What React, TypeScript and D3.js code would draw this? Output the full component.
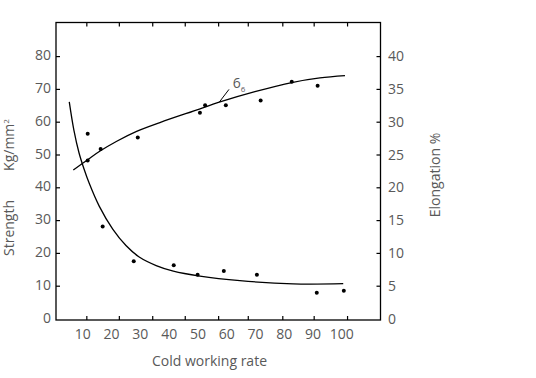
import React from "react";
import * as d3 from "d3";

const xTickLabels = [10, 20, 30, 40, 50, 60, 70, 80, 90, 100];
const xFrameTicks = [11.4, 22.7, 34.3, 45.6, 57.2, 67.5, 79.5, 90.4, 102.0];
const leftTicks = [0, 10, 20, 30, 40, 50, 60, 70, 80];
const rightTicks = [0, 5, 10, 15, 20, 25, 30, 35, 40];

// Strength points (Kg/mm2)
const strengthX = [11.7, 11.7, 16.2, 29.1, 50.7, 52.5, 59.7, 71.8, 82.6, 91.6];
const strengthY = [56.5, 48.3, 51.8, 55.3, 62.9, 65.2, 65.2, 66.6, 72.3, 71.1];
// Strength fitted curve
const strengthCurveX = [6.7, 11.9, 16.0, 21.8, 28.7, 36.8, 50.5, 57.4, 69.8, 82.6, 92.4, 101.1];
const strengthCurveY = [45.4, 48.7, 51.2, 54.2, 57.2, 59.9, 64.0, 66.1, 69.3, 72.1, 73.5, 74.2];

// Elongation points (%)
const elongX = [16.9, 27.7, 41.6, 49.9, 59.0, 70.5, 91.3, 100.7];
const elongY = [14.1, 8.8, 8.2, 6.75, 7.3, 6.75, 4.0, 4.3];
// Elongation fitted curve
const elongCurveX = [5.3, 6.9, 8.7, 10.4, 12.3, 15.7, 20.4, 25.0, 29.6, 35.5, 41.45, 50.7, 64.6, 83.1, 100.5];
const elongCurveY = [33.1, 28.8, 25.3, 22.9, 20.6, 17.2, 13.7, 11.2, 9.45, 8.15, 7.3, 6.55, 5.85, 5.35, 5.38];

// annotation "6_6": leader from curve to label
const annoFrom = [57.4, 66.1];
const annoTo = [60.8, 70.0];
const annoText = [62.1, 70.3];

export default function App() {
  const W = 536, H = 378;
  const frame = { left: 56, right: 380.5, top: 22.5, bottom: 320 };
  const x = d3.scaleLinear().domain([10, 100]).range([82.8, 341.8]);
  const yL = d3.scaleLinear().domain([0, 80]).range([319, 56.6]);
  const yR = d3.scaleLinear().domain([0, 40]).range([319, 56.6]);
  const line = d3.line<[number, number]>().curve(d3.curveCatmullRom.alpha(0.5));
  const sPath = line(strengthCurveX.map((v, i) => [x(v), yL(strengthCurveY[i])]))!;
  const ePath = line(elongCurveX.map((v, i) => [x(v), yR(elongCurveY[i])]))!;
  const gray = "#595959";
  const font = "'Open Sans', 'Segoe UI', sans-serif";
  const tl = 4;
  return (
    <svg width={W} height={H} style={{ position: "absolute", left: 0, top: 0, background: "#fff" }}>
      <rect x={frame.left} y={frame.top} width={frame.right - frame.left} height={frame.bottom - frame.top}
        fill="none" stroke="#000" strokeWidth={1.3} />
      {xFrameTicks.map((t, i) => (
        <g key={"xt" + i} stroke="#000" strokeWidth={1.2}>
          <line x1={x(t)} x2={x(t)} y1={frame.top} y2={frame.top + tl} />
          <line x1={x(t)} x2={x(t)} y1={frame.bottom} y2={frame.bottom - tl} />
        </g>
      ))}
      {leftTicks.filter(t => t > 0).map((t, i) => (
        <line key={"lt" + i} x1={frame.left} x2={frame.left + tl} y1={yL(t)} y2={yL(t)} stroke="#000" strokeWidth={1.2} />
      ))}
      {rightTicks.filter(t => t > 0).map((t, i) => (
        <line key={"rt" + i} x1={frame.right} x2={frame.right - tl} y1={yR(t)} y2={yR(t)} stroke="#000" strokeWidth={1.2} />
      ))}
      <g fontFamily={font} fontSize={14} fill={gray}>
        {xTickLabels.map((t, i) => (
          <text key={"xl" + i} x={x(t)} y={339} textAnchor="middle">{t}</text>
        ))}
        {leftTicks.map((t, i) => (
          <text key={"ll" + i} x={51} y={yL(t) - 2} textAnchor="end" dominantBaseline="central">{t}</text>
        ))}
        {rightTicks.map((t, i) => (
          <text key={"rl" + i} x={388} y={yR(t) - 1} textAnchor="start" dominantBaseline="central">{t}</text>
        ))}
        <text x={209.5} y={366} textAnchor="middle">Cold working rate</text>
        <text transform="translate(14,228) rotate(-90)" textAnchor="middle">Strength</text>
        <text transform="translate(14,145) rotate(-90)" textAnchor="middle">Kg/mm<tspan fontSize={8} dy={-5}>2</tspan></text>
        <text transform="translate(440,175) rotate(-90)" textAnchor="middle">Elongation %</text>
      </g>
      <path d={sPath} fill="none" stroke="#000" strokeWidth={1.3} />
      <path d={ePath} fill="none" stroke="#000" strokeWidth={1.3} />
      {strengthX.map((v, i) => (
        <circle key={"sp" + i} cx={x(v)} cy={yL(strengthY[i])} r={2} fill="#000" />
      ))}
      {elongX.map((v, i) => (
        <circle key={"ep" + i} cx={x(v)} cy={yR(elongY[i])} r={2} fill="#000" />
      ))}
      <line x1={x(annoFrom[0])} y1={yL(annoFrom[1])} x2={x(annoTo[0])} y2={yL(annoTo[1])} stroke="#000" strokeWidth={1} />
      <text x={x(annoText[0])} y={yL(annoText[1])} fontFamily={font} fontSize={14} fill={gray}>
        6<tspan fontSize={8} dy={4}>6</tspan>
      </text>
    </svg>
  );
}
